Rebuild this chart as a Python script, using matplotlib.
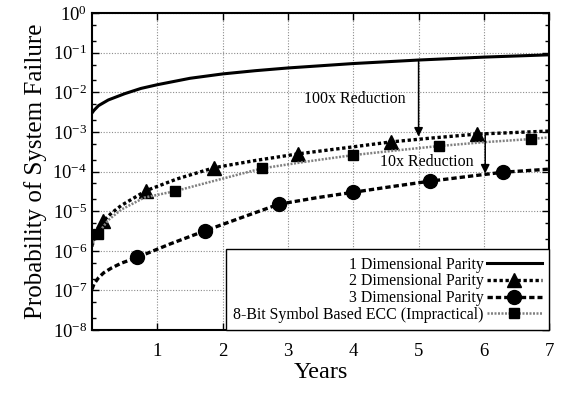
import matplotlib
matplotlib.use("Agg")
import matplotlib.pyplot as plt
from matplotlib.ticker import LogLocator, LogFormatterMathtext, NullFormatter

plt.rcParams['font.family'] = ['Liberation Serif', 'DejaVu Serif']
plt.rcParams['mathtext.fontset'] = 'custom'
plt.rcParams['mathtext.rm'] = 'Liberation Serif'

# 1 dimensional parity (line only)
x_1d = [0.0, 0.03, 0.1, 0.25, 0.5, 0.75, 1.0, 1.5, 2.0, 2.5, 3.0, 4.0, 5.0,
        6.0, 7.0]
y_1d = [3.0e-3, 3.5e-3, 4.6e-3, 6.4e-3, 9.2e-3, 1.25e-2, 1.55e-2, 2.25e-2,
        2.9e-2, 3.5e-2, 4.1e-2, 5.3e-2, 6.5e-2, 7.7e-2, 8.8e-2]

# 2 dimensional parity
x_2d = [0.0, 0.03, 0.08, 0.17, 0.3, 0.45, 0.83, 1.3, 1.87, 2.5, 3.16, 3.9,
        4.58, 5.2, 5.89, 7.0]
y_2d = [1.3e-6, 2.0e-6, 3.3e-6, 5.6e-6, 9.0e-6, 1.4e-5, 3.3e-5, 6.5e-5,
        1.25e-4, 1.9e-4, 2.8e-4, 4.0e-4, 5.6e-4, 7.0e-4, 8.8e-4, 1.05e-3]
mk_2d = [3, 6, 8, 10, 12, 14]

# 3 dimensional parity
x_3d = [0.0, 0.03, 0.1, 0.18, 0.3, 0.45, 0.69, 1.2, 1.73, 2.3, 2.86, 3.45,
        4.0, 4.6, 5.17, 5.75, 6.29, 7.0]
y_3d = [1.07e-7, 1.45e-7, 2.1e-7, 2.8e-7, 3.7e-7, 4.9e-7, 6.8e-7, 1.5e-6,
        3.2e-6, 7.0e-6, 1.5e-5, 2.2e-5, 3.0e-5, 4.2e-5, 5.7e-5, 7.5e-5,
        9.6e-5, 1.15e-4]
mk_3d = [6, 8, 10, 12, 14, 16]

# 8-bit symbol based ECC
x_ecc = [0.0, 0.03, 0.09, 0.25, 0.45, 0.8, 1.27, 1.9, 2.6, 3.3, 4.0, 4.65,
         5.31, 6.0, 6.72, 7.0]
y_ecc = [1.3e-6, 1.9e-6, 2.7e-6, 6.0e-6, 1.1e-5, 2.2e-5, 3.2e-5, 6.0e-5,
         1.2e-4, 1.8e-4, 2.6e-4, 3.4e-4, 4.4e-4, 5.5e-4, 6.6e-4, 7.3e-4]
mk_ecc = [2, 6, 8, 10, 12, 14]

labels = ['1 Dimensional Parity', '2 Dimensional Parity',
          '3 Dimensional Parity', '8-Bit Symbol Based ECC (Impractical)']

fig = plt.figure(figsize=(5.61, 3.93), dpi=100)
ax = fig.add_axes([0.164, 0.160, 0.815, 0.807])

ax.plot(x_1d, y_1d, color='black', lw=2.2, label=labels[0])
ax.plot(x_2d, y_2d, color='black', lw=2.4, ls=(0, (1, 0.8)), marker='^',
        ms=10, markevery=mk_2d, label=labels[1])
ax.plot(x_3d, y_3d, color='black', lw=2.4, ls=(0, (1.6, 0.9)), marker='o',
        ms=10, markevery=mk_3d, label=labels[2])
ax.plot(x_ecc, y_ecc, color='0.5', lw=1.8, ls=(0, (0.8, 0.6)), marker='s',
        ms=7.5, mfc='black', mec='black', markevery=mk_ecc, label=labels[3])

ax.set_yscale('log')
ax.set_xlim(0, 7)
ax.set_ylim(1e-8, 1)
ax.set_xticks([1, 2, 3, 4, 5, 6, 7])
ax.yaxis.set_major_locator(LogLocator(base=10, numticks=20))
ax.yaxis.set_major_formatter(LogFormatterMathtext())
ax.yaxis.set_minor_locator(LogLocator(base=10, subs=[2, 5], numticks=20))
ax.yaxis.set_minor_formatter(NullFormatter())

ax.grid(True, which='major', color='0.55', ls=(0, (1, 1.5)), lw=0.8)
ax.tick_params(which='both', direction='in', top=True, right=True,
               labelsize=13.5, width=1)
ax.tick_params(which='major', length=5)
ax.tick_params(which='minor', length=3)
ax.tick_params(axis='x', pad=9)
for s in ax.spines.values():
    s.set_linewidth(1.5)

ax.set_xlabel('Years', fontsize=17.5, labelpad=2)
ax.set_ylabel('Probability of System Failure', fontsize=18, labelpad=4)

# reduction arrows
arrow = dict(arrowstyle='-|>', color='black', lw=1.1, shrinkA=0, shrinkB=0,
             mutation_scale=13)
ax.annotate('', xy=(5.0, 7.6e-4), xytext=(5.0, 6.6e-2), arrowprops=arrow)
ax.annotate('', xy=(6.02, 8.9e-5), xytext=(6.02, 9.4e-4), arrowprops=arrow)
ax.text(4.02, 6.9e-3, '100x Reduction', fontsize=11.5, ha='center',
        va='center')
ax.text(5.12, 1.75e-4, '10x Reduction', fontsize=11.5, ha='center',
        va='center')

leg = ax.legend(loc='lower right', bbox_to_anchor=(1, 0), borderaxespad=0,
                markerfirst=False, fontsize=11.4, handlelength=3.5,
                handletextpad=0.2, labelspacing=0.05, borderpad=0.45,
                fancybox=False, framealpha=1, edgecolor='black')
leg.get_frame().set_linewidth(1.0)
leg.set_zorder(5)
# right-justify the legend text, gnuplot style
for col in leg._legend_handle_box.get_children():
    col.align = 'right'

fig.savefig('out.png', dpi=100)
